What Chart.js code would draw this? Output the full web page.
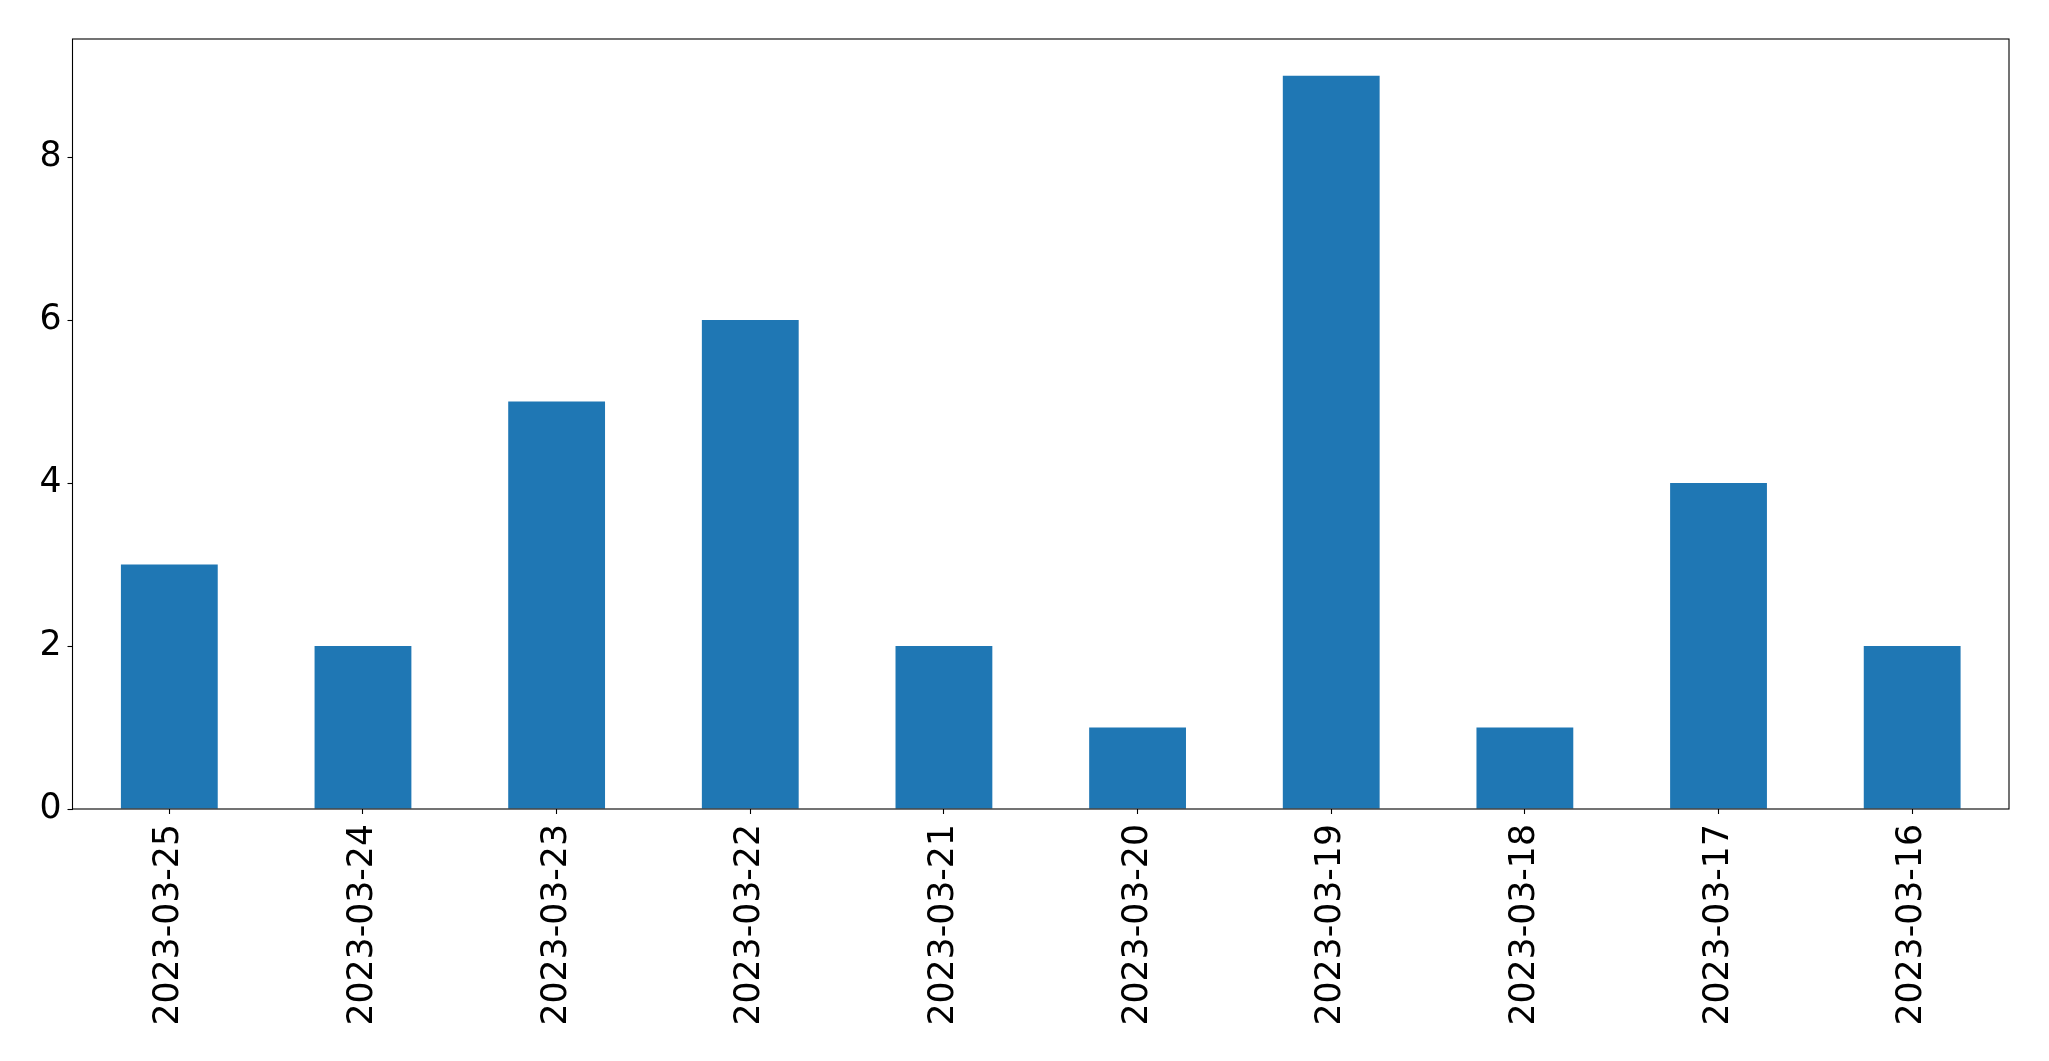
<!DOCTYPE html>
<html>
<head>
<meta charset="utf-8">
<script src="https://cdn.jsdelivr.net/npm/chart.js@4/dist/chart.umd.min.js"></script>
<style>
html,body{margin:0;padding:0;background:#fff;}
#wrap{width:2049px;height:1061px;position:relative;}
</style>
</head>
<body>
<div id="wrap"><canvas id="c" width="2049" height="1061"></canvas></div>
<script>
const categories = ["2023-03-25","2023-03-24","2023-03-23","2023-03-22","2023-03-21","2023-03-20","2023-03-19","2023-03-18","2023-03-17","2023-03-16"];
const values = [3,2,5,6,2,1,9,1,4,2];
const yTicks = [0,2,4,6,8];
const yMax = 9.45;

const frame = {
  id:'frame',
  afterDraw(chart){
    const a = chart.chartArea, ctx = chart.ctx;
    ctx.save();
    ctx.strokeStyle = '#000';
    ctx.lineWidth = 1.1;
    ctx.strokeRect(a.left, a.top, a.right - a.left, a.bottom - a.top);
    ctx.restore();
  }
};

new Chart(document.getElementById('c'), {
  type:'bar',
  data:{labels:categories, datasets:[{data:values, backgroundColor:'#1f77b4', barPercentage:0.5, categoryPercentage:1.0}]},
  options:{
    responsive:false, animation:false,
    layout:{padding:{left:0, top:39, right:40, bottom:0}},
    plugins:{legend:{display:false}, tooltip:{enabled:false}},
    scales:{
      x:{
        offset:true,
        grid:{drawOnChartArea:false, tickLength:5, tickColor:'#000', tickWidth:1.1, offset:false},
        border:{display:false},
        ticks:{color:'#000', font:{family:'DejaVu Sans', size:34.7}, minRotation:90, maxRotation:90, padding:10, autoSkip:false},
        afterFit(s){ s.height = 1061 - 809; }
      },
      y:{
        min:0, max:yMax,
        grid:{drawOnChartArea:false, tickLength:5, tickColor:'#000', tickWidth:1.1},
        border:{display:false},
        ticks:{color:'#000', font:{family:'DejaVu Sans', size:34.7}, padding:6},
        afterBuildTicks(s){ s.ticks = yTicks.map(v=>({value:v})); },
        afterFit(s){ s.width = 72.5; }
      }
    }
  },
  plugins:[frame]
});
</script>
</body>
</html>
